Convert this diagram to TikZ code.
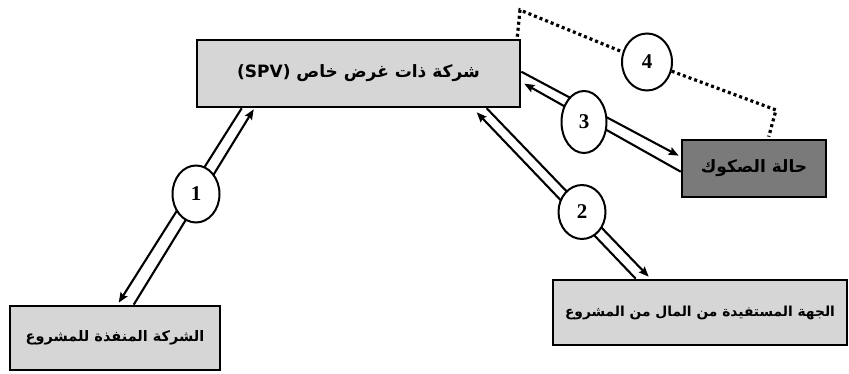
\documentclass[tikz,border=0pt]{standalone}
\usepackage{fontspec}
\usetikzlibrary{arrows.meta,shapes.geometric,calc}
\TeXXeTstate=1
\newfontfamily\arabicfont[Script=Arabic]{DejaVu Sans}
\newfontfamily\numfont{Liberation Serif}
\definecolor{lightfill}{RGB}{214,214,214}
\definecolor{darkfill}{RGB}{122,122,122}
\newcommand{\arsize}[1]{\fontsize{#1}{#1}\selectfont}

\begin{document}
\begin{tikzpicture}[x=1pt,y=-1pt,
  box/.style={draw, line width=2.6pt, rectangle, inner sep=0pt,
              font=\arabicfont\bfseries},
  lightbox/.style={box, fill=lightfill},
  darkbox/.style={box, fill=darkfill},
  numcirc/.style={draw, ellipse, line width=2pt, fill=white, inner sep=0pt,
                  font=\numfont\bfseries\fontsize{21}{23}\selectfont},
  flow/.style={line width=2.1pt, -{Stealth[length=10pt,width=8pt,inset=1.5pt]}},
  dotline/.style={line width=3.2pt, dash pattern=on 3pt off 3pt}
]
\useasboundingbox (0,0) rectangle (849,374);

% boxes
\node[lightbox, minimum width=323, minimum height=67] (spv) at (358.5,73.5)
  {\arsize{17}\beginR شركة ذات غرض خاص \beginL(SPV)\endL\endR};
\node[darkbox, minimum width=144, minimum height=57] (sukuk) at (754,168.5)
  {\arsize{17}\beginR حالة الصكوك\endR};
\node[lightbox, minimum width=210, minimum height=64] (exec) at (115,338)
  {\arsize{14.5}\beginR الشركة المنفذة للمشروع\endR};
\node[lightbox, minimum width=294, minimum height=65] (benef) at (700,312.5)
  {\arsize{13.8}\beginR الجهة المستفيدة من المال من المشروع\endR};

% end points of the paired connectors
\coordinate (a1top)  at ($(spv.south west)+(46,0)$);
\coordinate (a1tip)  at ($(spv.south west)+(58,1)$);
\coordinate (a1bot)  at ($(exec.north west)+(110,-2)$);
\coordinate (a1base) at ($(exec.north west)+(125,0)$);

\coordinate (a2tip)  at ($(spv.south west)+(281,4)$);
\coordinate (a2top)  at ($(spv.south west)+(291,0)$);
\coordinate (a2base) at ($(benef.north west)+(84,0)$);
\coordinate (a2bot)  at ($(benef.north west)+(97,-2)$);

\coordinate (a3top)  at ($(spv.north east)+(0,33)$);
\coordinate (a3tip)  at ($(spv.north east)+(3,45)$);
\coordinate (a3rtip) at ($(sukuk.north west)+(-2,17)$);
\coordinate (a3rbase) at ($(sukuk.north west)+(0,33)$);

\coordinate (d0) at ($(spv.north east)+(-4,-2)$);
\coordinate (d1) at (520,10);
\coordinate (d2) at (776,110);
\coordinate (d3) at ($(sukuk.north west)+(88,-2)$);

% paired connectors
\draw[flow] (a1top) -- (a1bot);
\draw[flow] (a1base) -- (a1tip);
\draw[flow] (a2top) -- (a2bot);
\draw[flow] (a2base) -- (a2tip);
\draw[flow] (a3top) -- (a3rtip);
\draw[flow] (a3rbase) -- (a3tip);

% numbered circles
\node[numcirc, minimum width=47, minimum height=57] (c1) at (196,194) {1};
\node[numcirc, minimum width=47, minimum height=54] (c2) at (582,212) {2};
\node[numcirc, minimum width=45, minimum height=62] (c3) at (584,122) {3};
\node[numcirc, minimum width=50, minimum height=57] (c4) at (647,62) {4};

% dotted link through circle 4
\draw[dotline] (d0) -- (d1) -- (c4);
\draw[dotline] (c4) -- (d2) -- (d3);
\end{tikzpicture}
\end{document}
